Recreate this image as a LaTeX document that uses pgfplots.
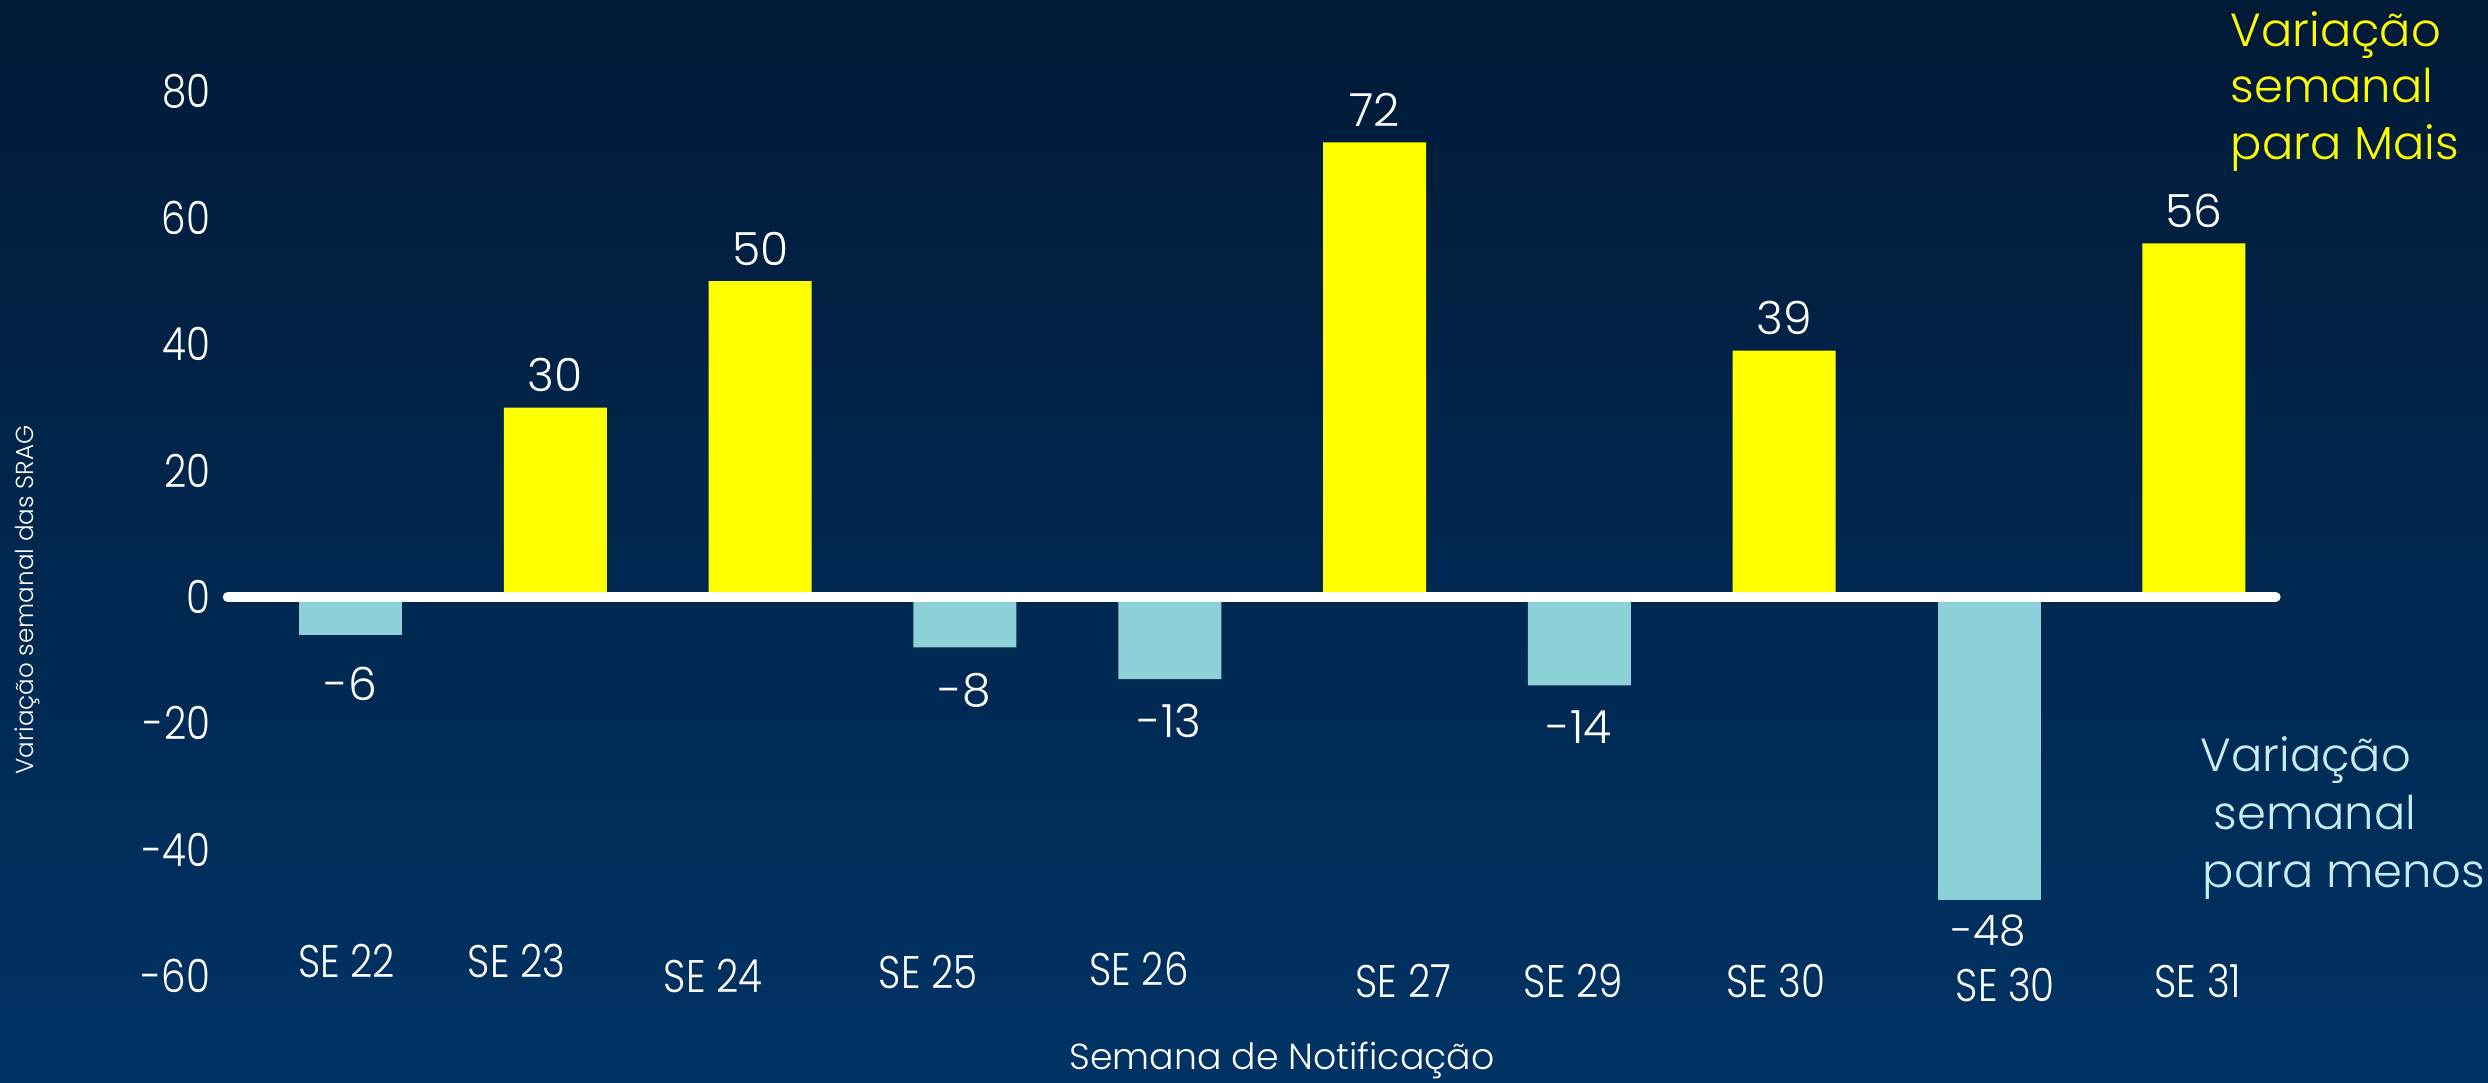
\documentclass[border=0pt]{standalone}
\usepackage{fontspec}
\setmainfont{Poppins Light}
\usepackage{graphicx}
\usepackage{pgfplots}
\pgfplotsset{compat=1.18}
\definecolor{bgtop}{RGB}{1,26,55}
\definecolor{bgbot}{RGB}{0,51,101}
\definecolor{ybarc}{RGB}{255,255,0}
\definecolor{bbarc}{RGB}{141,209,216}
\definecolor{btext}{RGB}{200,236,240}
\newcommand{\fs}[1]{\fontsize{#1}{#1}\selectfont}
\newcommand{\nar}[1]{\scalebox{0.85}[1]{#1}}
\begin{document}
\begin{tikzpicture}[x=1cm,y=1cm]
\fill[top color=bgtop,bottom color=bgbot] (0,0) rectangle (24.88,10.83);
\useasboundingbox (0,0) rectangle (24.88,10.83);
\begin{axis}[
  at={(2.277cm,1.072cm)}, anchor=south west,
  scale only axis, width=20.48cm, height=8.84cm,
  xmin=-0.6, xmax=9.4, ymin=-60, ymax=80,
  clip=false,
  axis line style={draw=none},
  major tick length=0pt,
  xtick=\empty,
  ytick={-60,-40,-20,0,20,40,60,80},
  yticklabels={\nar{-60},\nar{-40},\nar{-20},\nar{0},\nar{20},\nar{40},\nar{60},\nar{80}},
  yticklabel style={font=\fs{13}, text=white, xshift=-0.05cm},
  /pgf/number format/assume math mode=true,
  nodes near coords={\nar{\pgfmathprintnumber{\pgfplotspointmeta}}},
]
\addplot[ybar, bar width=1.03cm, bar shift=0pt, fill=ybarc, draw=none,
  nodes near coords,
  every node near coord/.append style={font=\fs{13}, text=white, anchor=south, yshift=1pt}]
  coordinates {(1,30) (2,50) (5,72) (7,39) (9,56)};
\addplot[ybar, bar width=1.03cm, bar shift=0pt, fill=bbarc, draw=none,
  nodes near coords,
  every node near coord/.append style={font=\fs{13}, text=white, anchor=north, yshift=-0.2cm}]
  coordinates {(0,-6)};
\addplot[ybar, bar width=1.03cm, bar shift=0pt, fill=bbarc, draw=none,
  nodes near coords,
  every node near coord/.append style={font=\fs{13}, text=white, anchor=north, yshift=-0.13cm}]
  coordinates {(3,-8) (4,-13) (6,-14)};
\addplot[ybar, bar width=1.03cm, bar shift=0pt, fill=bbarc, draw=none,
  nodes near coords,
  every node near coord/.append style={font=\fs{12}, text=white, anchor=north, yshift=-0.02cm}]
  coordinates {(8,-48)};
\draw[white, line width=2.8pt, line cap=round] (axis cs:-0.6,0) -- (axis cs:9.4,0);
\node[text=white, font=\fs{13}] at (axis cs:-0.02,-57.6) {\nar{SE 22}};
\node[text=white, font=\fs{13}] at (axis cs:0.81,-57.6) {\nar{SE 23}};
\node[text=white, font=\fs{13}] at (axis cs:1.77,-60.1) {\nar{SE 24}};
\node[text=white, font=\fs{13}] at (axis cs:2.82,-59.4) {\nar{SE 25}};
\node[text=white, font=\fs{13}] at (axis cs:3.85,-58.9) {\nar{SE 26}};
\node[text=white, font=\fs{13}] at (axis cs:5.14,-60.9) {\nar{SE 27}};
\node[text=white, font=\fs{13}] at (axis cs:5.97,-60.9) {\nar{SE 29}};
\node[text=white, font=\fs{13}] at (axis cs:6.96,-60.9) {\nar{SE 30}};
\node[text=white, font=\fs{13}] at (axis cs:8.08,-61.4) {\nar{SE 30}};
\node[text=white, font=\fs{13}] at (axis cs:9.02,-60.9) {\nar{SE 31}};
\end{axis}
\node[text=white, font=\fs{10.3}] at (12.82,0.23) {Semana de Notificação};
\node[text=white, font=\fs{7}, rotate=90] at (0.27,4.83) {Variação semanal das SRAG};
\node[text=ybarc, font=\fs{13.2}, anchor=base west, inner sep=0pt] at (22.30,10.36) {Variação};
\node[text=ybarc, font=\fs{13.2}, anchor=base west, inner sep=0pt] at (22.30,9.80) {semanal};
\node[text=ybarc, font=\fs{13.2}, anchor=base west, inner sep=0pt] at (22.30,9.23) {para Mais};
\node[text=btext, font=\fs{13.2}, anchor=base west, inner sep=0pt] at (22.00,3.11) {Variação};
\node[text=btext, font=\fs{13.2}, anchor=base west, inner sep=0pt] at (22.13,2.53) {semanal};
\node[text=btext, font=\fs{13.2}, anchor=base west, inner sep=0pt] at (22.02,1.95) {para menos};
\end{tikzpicture}
\end{document}
